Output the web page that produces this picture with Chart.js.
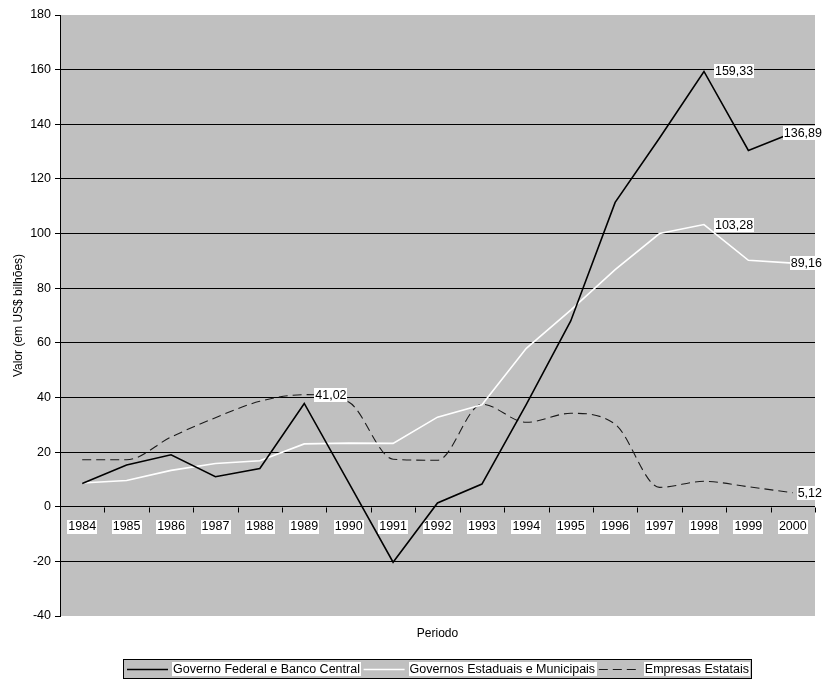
<!DOCTYPE html>
<html>
<head>
<meta charset="utf-8">
<script src="https://cdn.jsdelivr.net/npm/chart.js@4.4.1/dist/chart.umd.min.js"></script>
<style>
  html, body { margin: 0; padding: 0; background: #ffffff; }
  #wrap { width: 827px; height: 680px; position: relative; }
</style>
</head>
<body>
<div id="wrap"><canvas id="c" width="827" height="680"></canvas></div>
<script>
// ---- data ----
const categories = ['1984','1985','1986','1987','1988','1989','1990','1991','1992','1993','1994','1995','1996','1997','1998','1999','2000'];
const federal    = [8.5, 15.3, 19.0, 11.0, 14.0, 37.8, 8.8, -20.3, 1.4, 8.3, 37.5, 68.0, 111.4, 135.0, 159.33, 130.4, 136.89];
const estaduais  = [8.7, 9.6, 13.3, 15.8, 16.8, 23.0, 23.3, 23.2, 32.8, 37.3, 58.0, 72.0, 86.8, 100.0, 103.28, 90.2, 89.16];
const estatais   = [17.2, 17.2, 25.5, 32.6, 38.6, 41.02, 38.3, 17.4, 17.0, 37.5, 30.9, 34.2, 30.2, 7.1, 9.3, 7.3, 5.12];
const seriesNames = ['Governo Federal e Banco Central', 'Governos Estaduais e Municipais', 'Empresas Estatais'];
const labelIdx = [[14, 16], [14, 16], [5, 16]];
const yTitle = 'Valor (em US$ bilhões)';
const xTitle = 'Periodo';

const FONT = 'Liberation Sans, Arial, sans-serif';

function fmt(v) { return v.toFixed(2).replace('.', ','); }

const bgPlugin = {
  id: 'bg',
  beforeDraw(chart) {
    const {ctx, chartArea: a} = chart;
    ctx.save();
    ctx.fillStyle = '#C0C0C0';
    ctx.fillRect(a.left, a.top, a.right - a.left, a.bottom - a.top);
    ctx.restore();
  }
};

const axisLabelsPlugin = {
  id: 'axisLabels',
  beforeDatasetsDraw(chart) {
    const {ctx} = chart;
    const xs = chart.scales.x, ys = chart.scales.y;
    const y0 = Math.round(ys.getPixelForValue(0)) + 0.5;
    ctx.save();
    ctx.strokeStyle = '#000';
    ctx.lineWidth = 1;
    const n = categories.length;
    const step = (xs.getPixelForValue(n - 1) - xs.getPixelForValue(0)) / (n - 1);
    ctx.beginPath();
    for (let k = 0; k <= n; k++) {
      const x = Math.round(xs.getPixelForValue(0) - step / 2 + k * step) + 0.5;
      ctx.moveTo(x, y0);
      ctx.lineTo(x, y0 + 5);
    }
    ctx.stroke();
    ctx.font = '12.5px ' + FONT;
    ctx.textBaseline = 'middle';
    ctx.textAlign = 'center';
    categories.forEach((c, i) => {
      const x = xs.getPixelForValue(i);
      const w = ctx.measureText(c).width;
      const yc = y0 + 19;
      ctx.fillStyle = '#fff';
      ctx.fillRect(Math.round(x - w / 2 - 1), Math.round(yc - 7), Math.round(w + 2), 14);
      ctx.fillStyle = '#000';
      ctx.fillText(c, x, yc + 0.5);
    });
    ctx.restore();
  },
  afterDatasetsDraw(chart) {
    const {ctx} = chart;
    ctx.save();
    ctx.font = '12.5px ' + FONT;
    ctx.textBaseline = 'middle';
    ctx.textAlign = 'left';
    chart.data.datasets.forEach((ds, di) => {
      const meta = chart.getDatasetMeta(di);
      labelIdx[di].forEach(i => {
        const pt = meta.data[i];
        const txt = fmt(ds.data[i]);
        const w = ctx.measureText(txt).width;
        let left = pt.x + 10;
        if (left + w + 2 > 823) left = 823 - w - 2;
        ctx.fillStyle = '#fff';
        ctx.fillRect(Math.round(left), Math.round(pt.y - 7), Math.round(w + 2), 14);
        ctx.fillStyle = '#000';
        ctx.fillText(txt, left + 1, pt.y + 0.5);
      });
    });
    ctx.restore();
  },
  afterDraw(chart) {
    const {ctx} = chart;
    ctx.save();
    const bx = 123, by = 659, bw = 628, bh = 19;
    ctx.fillStyle = '#C0C0C0';
    ctx.fillRect(bx, by, bw, bh);
    ctx.strokeStyle = '#000';
    ctx.lineWidth = 1;
    ctx.strokeRect(bx + 0.5, by + 0.5, bw, bh);
    ctx.font = '12.5px ' + FONT;
    ctx.textBaseline = 'middle';
    ctx.textAlign = 'left';
    const yc = by + 10;
    const dsets = chart.data.datasets;
    const widths = dsets.map(d => ctx.measureText(d.label).width + 2);
    const sample = 41, gapST = 4;
    const startX = 127, endX = 750;
    const used = dsets.length * (sample + gapST) + widths.reduce((s, w) => s + w, 0);
    const gap = (endX - startX - used) / (dsets.length - 1);
    let cur = startX;
    dsets.forEach((d, i) => {
      ctx.strokeStyle = d.borderColor;
      ctx.lineWidth = d.borderWidth;
      ctx.setLineDash(d.borderDash || []);
      ctx.beginPath();
      ctx.moveTo(cur, yc + 0.5);
      ctx.lineTo(cur + sample, yc + 0.5);
      ctx.stroke();
      ctx.setLineDash([]);
      const tx = cur + sample + gapST;
      ctx.fillStyle = '#fff';
      ctx.fillRect(Math.round(tx), by + 3, Math.round(widths[i]), 14);
      ctx.fillStyle = '#000';
      ctx.fillText(d.label, tx + 1, yc + 0.5);
      cur = tx + widths[i] + gap;
    });
    ctx.restore();
  }
};

new Chart(document.getElementById('c'), {
  type: 'line',
  data: {
    labels: categories,
    datasets: [
      { label: seriesNames[0], data: federal, borderColor: '#000000', borderWidth: 1.6, pointRadius: 0, tension: 0, fill: false },
      { label: seriesNames[1], data: estaduais, borderColor: '#FFFFFF', borderWidth: 1.6, pointRadius: 0, tension: 0, fill: false },
      { label: seriesNames[2], data: estatais, borderColor: '#1a1a1a', borderWidth: 1.1, borderDash: [9, 5], pointRadius: 0, cubicInterpolationMode: 'monotone', fill: false }
    ]
  },
  options: {
    responsive: false,
    animation: false,
    devicePixelRatio: 1,
    layout: { padding: { left: 0, top: 15, right: 12, bottom: 0 } },
    plugins: { legend: { display: false }, tooltip: { enabled: false } },
    scales: {
      x: {
        type: 'category',
        offset: true,
        grid: { display: false },
        border: { display: false },
        ticks: { display: false },
        title: { display: true, text: xTitle, color: '#000', font: { family: FONT, size: 12 }, padding: { top: 0, bottom: 38.8 } },
        afterFit(s) { s.height = 64; }
      },
      y: {
        min: -40, max: 180,
        ticks: { stepSize: 20, color: '#000', font: { family: FONT, size: 12.5 }, padding: 4 },
        grid: {
          color: (c) => (c.tick && c.tick.value >= -20 && c.tick.value <= 160) ? '#000' : 'rgba(0,0,0,0)',
          tickColor: '#000',
          tickLength: 5,
          lineWidth: 1
        },
        border: { display: true, color: '#000', width: 1 },
        title: { display: true, text: yTitle, color: '#000', font: { family: FONT, size: 12 }, padding: { top: 11, bottom: 0 } },
        afterFit(s) { s.width = 60; }
      }
    }
  },
  plugins: [bgPlugin, axisLabelsPlugin]
});
</script>
</body>
</html>
